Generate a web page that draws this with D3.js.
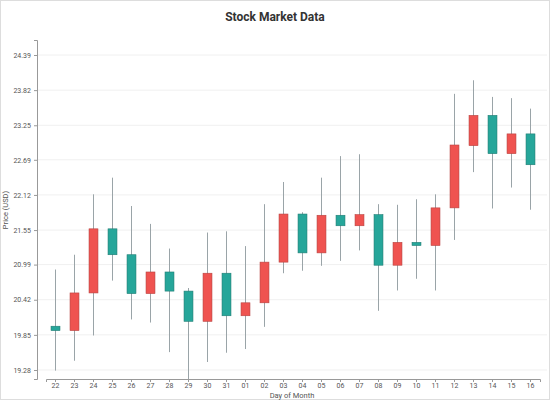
<!DOCTYPE html>
<html><head><meta charset="utf-8">
<script src="https://cdn.jsdelivr.net/npm/d3@7"></script>
<style>body{margin:0;background:#fff}svg{display:block}</style>
</head><body><svg id="c" width="550" height="400"></svg>
<script>
const days=["22","23","24","25","26","27","28","29","30","31","01","02","03","04","05","06","07","08","09","10","11","12","13","14","15","16"];
const opens=[19.99,19.92,20.53,21.57,21.15,20.52,20.87,20.56,20.07,20.85,20.16,20.37,21.03,21.81,21.18,21.79,21.62,21.80,20.98,21.35,21.30,21.91,22.92,23.41,22.79,23.11];
const closes=[19.92,20.53,21.57,21.15,20.52,20.87,20.56,20.07,20.85,20.16,20.37,21.03,21.81,21.18,21.79,21.62,21.80,20.98,21.35,21.30,21.91,22.93,23.41,22.79,23.11,22.61];
const highs=[20.91,21.15,22.13,22.40,21.94,21.65,21.25,20.61,21.51,21.53,21.29,21.97,22.33,21.84,22.40,22.75,22.78,21.97,21.96,22.05,22.13,23.76,23.98,23.71,23.69,23.52];
const lows=[19.27,19.43,19.84,20.73,20.10,20.05,19.57,19.12,19.41,19.56,19.62,19.98,20.85,20.89,20.97,21.05,21.22,20.24,20.57,20.76,20.57,21.39,22.49,21.90,22.24,21.88];
const yTicks=[19.28,19.85,20.42,20.99,21.55,22.12,22.69,23.25,23.82,24.39];

const svg=d3.select("#c");
svg.append("rect").attr("x",0.5).attr("y",0.5).attr("width",549).attr("height",399).attr("fill","#fff").attr("stroke","#ddd");
const L=37,R=547,T=40,B=379;
const x=d3.scaleBand().domain(days).range([46,540]).paddingInner(0.53).paddingOuter(0.265);
const y=d3.scaleLinear().domain([19.28-9/61.64,24.39+15/61.64]).range([B,T]);
const f="Roboto, 'Open Sans', sans-serif";
svg.append("g").selectAll("line").data(yTicks).join("line")
 .attr("x1",L).attr("x2",R).attr("y1",d=>y(d)).attr("y2",d=>y(d)).attr("stroke","#f0f0f0");
const ya=svg.append("g").attr("transform",`translate(${L},0)`).call(d3.axisLeft(y).tickValues(yTicks).tickFormat(d3.format(".2f")).tickSize(3));
const xa=svg.append("g").attr("transform",`translate(0,${B})`).call(d3.axisBottom(x).tickSize(3).tickPadding(1.5));
[ya,xa].forEach(a=>{a.selectAll("text").attr("fill","#555").style("font-size","7px").style("font-family",f);a.selectAll("line,path").attr("stroke","#999");});
const data=days.map((d,i)=>({d,o:opens[i],c:closes[i],h:highs[i],l:lows[i]}));
const g=svg.append("g");
g.selectAll("line.w").data(data).join("line").attr("class","w")
 .attr("x1",d=>x(d.d)+x.bandwidth()/2).attr("x2",d=>x(d.d)+x.bandwidth()/2)
 .attr("y1",d=>y(d.h)).attr("y2",d=>Math.min(y(d.l),B)).attr("stroke","#9aa4a8").attr("stroke-width",1);
g.selectAll("rect.b").data(data).join("rect").attr("class","b")
 .attr("x",d=>x(d.d)).attr("width",x.bandwidth())
 .attr("y",d=>y(Math.max(d.o,d.c))).attr("height",d=>Math.max(1,Math.abs(y(d.o)-y(d.c))))
 .attr("fill",d=>d.c>d.o?"#ef5350":"#26a69a").attr("stroke",d=>d.c>d.o?"#b84340":"#1f7d74").attr("stroke-width",0.6);
svg.append("text").attr("x",275).attr("y",21).attr("text-anchor","middle").style("font-family",f).style("font-weight","bold").style("font-size","12px").attr("fill","#333").text("Stock Market Data");
svg.append("text").attr("x",292).attr("y",398).attr("text-anchor","middle").style("font-family",f).style("font-size","7.5px").attr("fill","#555").text("Day of Month");
svg.append("text").attr("transform","translate(8,210) rotate(-90)").attr("text-anchor","middle").style("font-family",f).style("font-size","7.5px").attr("fill","#555").text("Price (USD)");
</script></body></html>
